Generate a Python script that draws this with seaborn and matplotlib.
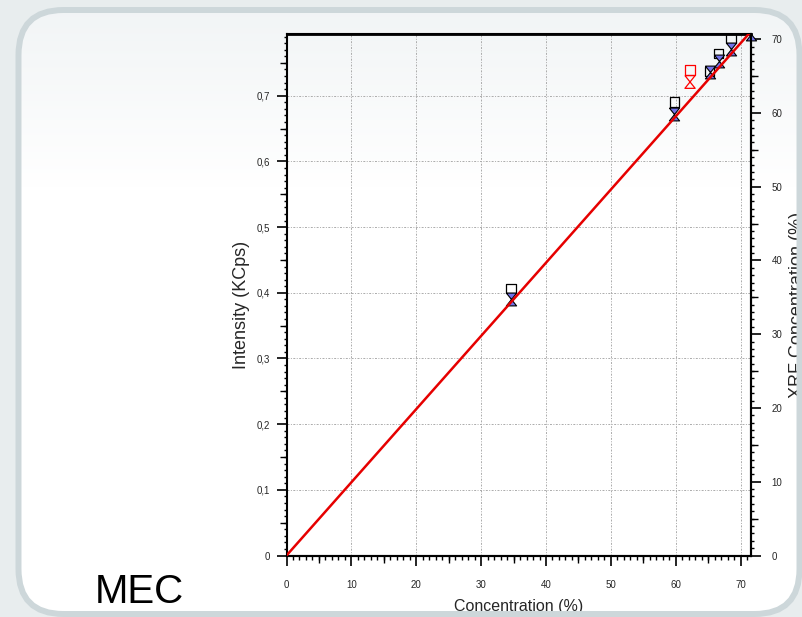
import numpy as np
import matplotlib
matplotlib.use("Agg")
import matplotlib.pyplot as plt
import seaborn as sns
from matplotlib.patches import FancyBboxPatch, Rectangle
from matplotlib.ticker import MultipleLocator, NullLocator

# ------------------------------------------------------------------
# Data (XRF concentration in %, read against the right axis)
conc_sq = [34.6, 59.8, 65.2, 66.6, 68.5]
xrf_sq = [36.2, 61.5, 65.6, 68.1, 70.1]

conc_hg = [34.6, 59.8, 65.2, 66.6, 68.5, 71.55]
xrf_hg = [34.8, 59.8, 65.5, 67.1, 68.7, 70.7]

conc_red = [62.2]
xrf_red_sq = [65.8]
xrf_red_hg = [64.2]

fit_x = [0, 71.55]
fit_y = [0, 71.0]

x_ticks = [0, 10, 20, 30, 40, 50, 60, 70]
int_ticks = [0, 0.1, 0.2, 0.3, 0.4, 0.5, 0.6, 0.7]
int_labels = ["0", "0,1", "0,2", "0,3", "0,4", "0,5", "0,6", "0,7"]
xrf_ticks = [0, 10, 20, 30, 40, 50, 60, 70]

# ------------------------------------------------------------------
sns.set_style("ticks")
plt.rcParams['font.family'] = ['Liberation Sans', 'DejaVu Sans']

W, H = 802, 617
fig = plt.figure(figsize=(W / 100, H / 100), dpi=100)
fig.patch.set_facecolor("#e8edee")

# fond + cadre arrondi
bg = fig.add_axes([0, 0, 1, 1], zorder=-5)
bg.set_xlim(0, W)
bg.set_ylim(H, 0)
bg.axis("off")
inner = FancyBboxPatch((18.5, 10), 781, 604, boxstyle="round,pad=0,rounding_size=45",
                       facecolor="white", edgecolor="none")
bg.add_patch(inner)
grad = np.linspace(0, 1, 256)
grad = np.clip(grad / 0.3, 0, 1)
top_c = np.array([0.945, 0.957, 0.962])
img = top_c[None, :] * (1 - grad[:, None]) + np.ones(3)[None, :] * grad[:, None]
img = np.repeat(img[:, None, :], 2, axis=1)
im = bg.imshow(img, extent=[0, W, H, 0], aspect="auto", zorder=1)
im.set_clip_path(inner)

# axes principal
ax = fig.add_axes([286.5 / W, 1 - 555.5 / H, (750.7 - 286.5) / W, (555.5 - 34) / H])
ax.set_facecolor("none")
ax.set_xlim(0, 71.55)
ax.set_ylim(0, 0.794)
ax.set_xticks(x_ticks)
ax.set_yticks(int_ticks, labels=int_labels)
ax.xaxis.set_minor_locator(MultipleLocator(1))
ax.yaxis.set_minor_locator(MultipleLocator(0.01))
ax.grid(True, which="major", color="#ababab", linestyle=(0, (2, 1.5, 1, 1.5)), linewidth=0.7)
ax.tick_params(axis="x", which="major", length=7, width=1.2, pad=11, labelsize=7, color="black")
ax.tick_params(axis="x", which="minor", length=3, width=1.0, color="black")
ax.tick_params(axis="y", which="major", length=7, width=1.2, pad=5, labelsize=7, color="black")
ax.tick_params(axis="y", which="minor", length=2.5, width=1.0, color="black")
ax.set_xlabel("Concentration (%)", fontsize=11.5)
ax.set_ylabel("Intensity (KCps)", fontsize=13)
ax.xaxis.set_label_coords(0.5, -0.083)
ax.yaxis.set_label_coords(-0.079, 0.48)
for s in ax.spines.values():
    s.set_color("black")
    s.set_linewidth(1.5)
ax.spines["left"].set_linewidth(1.2)

# axe de droite : concentration XRF
ax2 = ax.twinx()
ax2.set_ylim(0, 70.7)
ax2.set_yticks(xrf_ticks)
ax2.yaxis.set_minor_locator(MultipleLocator(1))
ax2.tick_params(axis="y", which="major", length=7, width=1.2, pad=8, labelsize=7, color="black")
ax2.tick_params(axis="y", which="minor", length=2.5, width=1.0, color="black")
ax2.set_ylabel("XRF Concentration (%)", fontsize=13)
ax2.yaxis.set_label_coords(1.082, 0.48)
for s in ax2.spines.values():
    s.set_color("black")
    s.set_linewidth(1.5)
ax2.spines["top"].set_linewidth(2)

# graduations intermédiaires (tous les 5)
sec_x = ax.secondary_xaxis("bottom")
sec_x.set_xticks([5, 15, 25, 35, 45, 55, 65])
sec_x.xaxis.set_minor_locator(NullLocator())
sec_x.tick_params(length=5, width=1.0, labelbottom=False, color="black")
sec_y = ax.secondary_yaxis("left")
sec_y.set_yticks([0.05, 0.15, 0.25, 0.35, 0.45, 0.55, 0.65, 0.75])
sec_y.yaxis.set_minor_locator(NullLocator())
sec_y.tick_params(length=5, width=1.0, labelleft=False, color="black")
sec_r = ax2.secondary_yaxis("right")
sec_r.set_yticks([5, 15, 25, 35, 45, 55, 65])
sec_r.yaxis.set_minor_locator(NullLocator())
sec_r.tick_params(length=5, width=1.0, labelright=False, color="black")
for sec in (sec_x, sec_y, sec_r):
    for s in sec.spines.values():
        s.set_visible(False)

# marqueurs
square = [(-1, -1), (1, -1), (1, 1), (-1, 1), (-1, -1)]
hourglass = [(-0.8, 1), (0.8, 1), (-0.8, -1), (0.8, -1), (-0.8, 1)]

sns.scatterplot(x=conc_sq, y=xrf_sq, marker=square, s=45, color="black",
                facecolor="none", edgecolor="black", linewidth=0.9, ax=ax2)
sns.scatterplot(x=conc_hg, y=xrf_hg, marker=hourglass, s=85, color="#7272ea",
                facecolor="#7272ea", edgecolor="black", linewidth=0.8, ax=ax2)
ax2.collections[-1].set_clip_path(Rectangle((0, 0), 1.05, 1, transform=ax2.transAxes))
sns.scatterplot(x=conc_red, y=xrf_red_sq, marker=square, s=45, color="red",
                facecolor="none", edgecolor="red", linewidth=0.9, ax=ax2)
sns.scatterplot(x=conc_red, y=xrf_red_hg, marker=hourglass, s=85, color="red",
                facecolor="none", edgecolor="red", linewidth=0.9, ax=ax2)

sns.lineplot(x=fit_x, y=fit_y, color="#e60000", linewidth=1.8, sort=False, ax=ax2, zorder=4)
ax2.set_xlim(0, 71.55)

# contour du cadre par-dessus
ov = fig.add_axes([0, 0, 1, 1], zorder=10)
ov.set_facecolor("none")
ov.set_xlim(0, W)
ov.set_ylim(H, 0)
ov.axis("off")
ov.add_patch(FancyBboxPatch((18.5, 10), 781, 604, boxstyle="round,pad=0,rounding_size=45",
                            facecolor="none", edgecolor="#cdd7da", linewidth=4.3))

fig.text(95 / W, 1 - 603 / H, "MEC", fontsize=29, color="black", ha="left", va="baseline")

fig.savefig("out.png", dpi=100)
